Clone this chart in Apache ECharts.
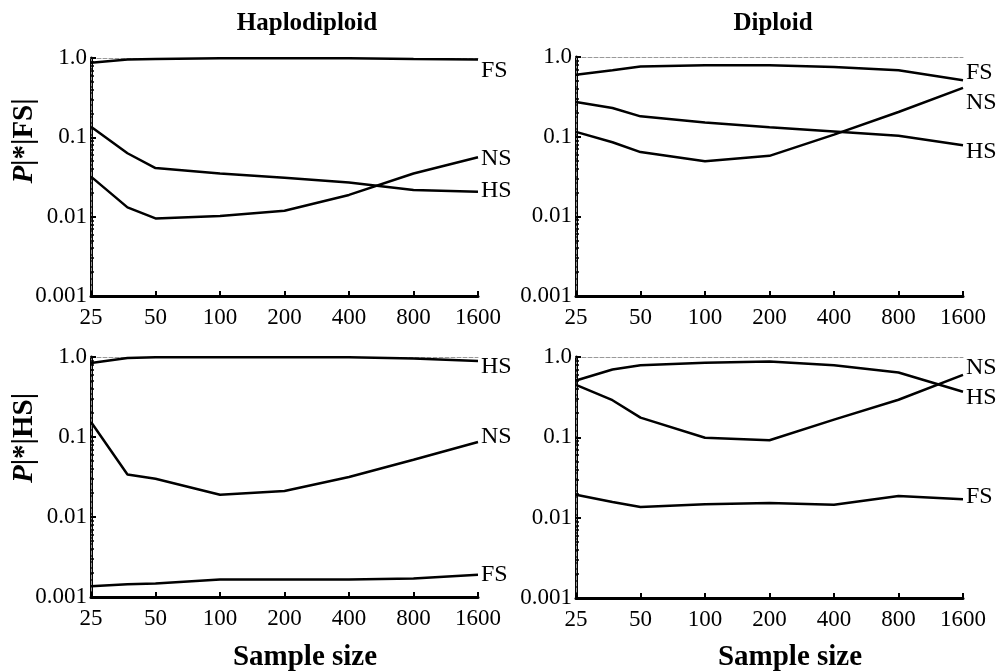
<!DOCTYPE html>
<html><head><meta charset="utf-8">
<script src="https://cdn.jsdelivr.net/npm/echarts@6/dist/echarts.min.js"></script>
<style>html,body{margin:0;padding:0;background:#fff}#c{width:996px;height:671px}</style>
</head><body><div id="c"></div>
<script>
// ---- data ----
const sampleSizes = [25, 37, 50, 100, 200, 400, 800, 1600];
const xTickLabels = ['25', '50', '100', '200', '400', '800', '1600'];
const yTickLabels = ['0.001', '0.01', '0.1', '1.0'];

// Haplodiploid, P|*|FS|
const hapFS_FS = [0.87, 0.96, 0.97, 0.99, 0.99, 0.99, 0.97, 0.96];
const hapFS_NS = [0.032, 0.0131, 0.0095, 0.0102, 0.0119, 0.0188, 0.035, 0.056];
const hapFS_HS = [0.136, 0.063, 0.041, 0.035, 0.031, 0.027, 0.0217, 0.0206];
// Diploid, P|*|FS|
const dipFS_FS = [0.60, 0.68, 0.76, 0.79, 0.79, 0.75, 0.68, 0.51];
const dipFS_NS = [0.115, 0.085, 0.064, 0.049, 0.0575, 0.106, 0.204, 0.41];
const dipFS_HS = [0.272, 0.229, 0.18, 0.151, 0.131, 0.116, 0.103, 0.078];
// Haplodiploid, P|*|HS|
const hapHS_HS = [0.84, 0.97, 0.99, 0.99, 0.99, 0.99, 0.96, 0.89];
const hapHS_NS = [0.154, 0.034, 0.030, 0.019, 0.0211, 0.0316, 0.052, 0.0866];
const hapHS_FS = [0.00136, 0.00144, 0.00147, 0.00166, 0.00165, 0.00165, 0.0017, 0.0019];
// Diploid, P|*|HS|
const dipHS_NS = [0.45, 0.29, 0.176, 0.099, 0.092, 0.166, 0.294, 0.60];
const dipHS_HS = [0.51, 0.70, 0.79, 0.85, 0.88, 0.79, 0.64, 0.37];
const dipHS_FS = [0.0193, 0.0157, 0.0136, 0.0147, 0.0152, 0.0145, 0.0186, 0.0169];

// ---- chart ----
const SERIF = "'Liberation Serif','Times New Roman',serif";
const grids = [
  {left: 91, top: 58, width: 387, height: 238},
  {left: 576, top: 57, width: 387, height: 239},
  {left: 91, top: 357, width: 387, height: 240},
  {left: 576, top: 357, width: 387, height: 241}
];
const panels = [
  {series: [['FS', hapFS_FS, 11], ['NS', hapFS_NS, 1], ['HS', hapFS_HS, -1]]},
  {series: [['FS', dipFS_FS, -8], ['NS', dipFS_NS, 15], ['HS', dipFS_HS, 6]]},
  {series: [['HS', hapHS_HS, 6], ['NS', hapHS_NS, -5], ['FS', hapHS_FS, 0]]},
  {series: [['NS', dipHS_NS, -7], ['HS', dipHS_HS, 6], ['FS', dipHS_FS, -3]]}
];
const xVal = n => Math.log2(n / 25);

const xAxis = [], yAxis = [], series = [];
panels.forEach((p, i) => {
  xAxis.push({
    type: 'value', gridIndex: i, min: 0, max: 6, interval: 1,
    axisLine: {show: true, onZero: false, lineStyle: {color: '#000', width: 3}},
    axisTick: {show: true, inside: true, length: 5, lineStyle: {color: '#000', width: 2}},
    axisLabel: {color: '#000', fontFamily: SERIF, fontSize: 23, margin: 10,
      formatter: v => xTickLabels[Math.round(v)]},
    splitLine: {show: false}
  });
  xAxis.push({
    type: 'value', gridIndex: i, min: 0, max: 6, position: 'top',
    axisLine: {show: true, lineStyle: {color: '#999', width: 1, type: 'dashed'}},
    axisTick: {show: false}, axisLabel: {show: false}, splitLine: {show: false}
  });
  yAxis.push({
    type: 'log', logBase: 10, gridIndex: i, min: 0.001, max: 1,
    axisLine: {show: true, lineStyle: {color: '#000', width: 3}},
    axisTick: {show: true, inside: true, length: 5, lineStyle: {color: '#000', width: 2}},
    minorTick: {show: true, splitNumber: 9, length: 3, lineStyle: {color: '#000', width: 1.5}},
    axisLabel: {color: '#000', fontFamily: SERIF, fontSize: 23, margin: 4,
      formatter: v => yTickLabels[Math.round(Math.log10(v)) + 3]},
    splitLine: {show: false}
  });
  yAxis.push({
    type: 'log', logBase: 10, gridIndex: i, min: 0.001, max: 1, position: 'right',
    axisLine: {show: true, lineStyle: {color: '#999', width: 1, type: 'dashed'}},
    axisTick: {show: false}, axisLabel: {show: false}, splitLine: {show: false}
  });
  p.series.forEach(([name, vals, dy]) => {
    series.push({
      name: name, type: 'line', xAxisIndex: 2 * i, yAxisIndex: 2 * i,
      data: sampleSizes.map((n, k) => [xVal(n), vals[k]]),
      showSymbol: false, symbol: 'none', silent: true, animation: false,
      lineStyle: {color: '#000', width: 2.5},
      endLabel: {show: true, formatter: name, fontFamily: SERIF, fontSize: 24, color: '#000',
        distance: 3, offset: [0, dy]}
    });
  });
});

const yNameStyle = (txt, x, y) => ({
  type: 'text', x: x, y: y, rotation: Math.PI / 2,
  style: {
    text: '{i|P}|*|' + txt + '|', align: 'center', verticalAlign: 'middle',
    fontFamily: SERIF, fontSize: 29, fontWeight: 'bold', fill: '#000',
    rich: {i: {fontFamily: SERIF, fontSize: 29, fontWeight: 'bold', fontStyle: 'italic', fill: '#000'}}
  }
});

const chart = echarts.init(document.getElementById('c'), null, {renderer: 'canvas'});
chart.setOption({
  animation: false,
  backgroundColor: '#fff',
  grid: grids,
  xAxis: xAxis,
  yAxis: yAxis,
  title: [
    {text: 'Haplodiploid', left: 302, top: 6, textAlign: 'center',
      textStyle: {fontFamily: SERIF, fontSize: 25, fontWeight: 'bold', color: '#000'}},
    {text: 'Diploid', left: 768, top: 6, textAlign: 'center',
      textStyle: {fontFamily: SERIF, fontSize: 25, fontWeight: 'bold', color: '#000'}},
    {text: 'Sample size', left: 300, top: 638, textAlign: 'center',
      textStyle: {fontFamily: SERIF, fontSize: 29, fontWeight: 'bold', color: '#000'}},
    {text: 'Sample size', left: 785, top: 638, textAlign: 'center',
      textStyle: {fontFamily: SERIF, fontSize: 29, fontWeight: 'bold', color: '#000'}}
  ],
  graphic: [yNameStyle('FS', 25, 141), yNameStyle('HS', 25, 438)],
  series: series
});
</script>
</body></html>
